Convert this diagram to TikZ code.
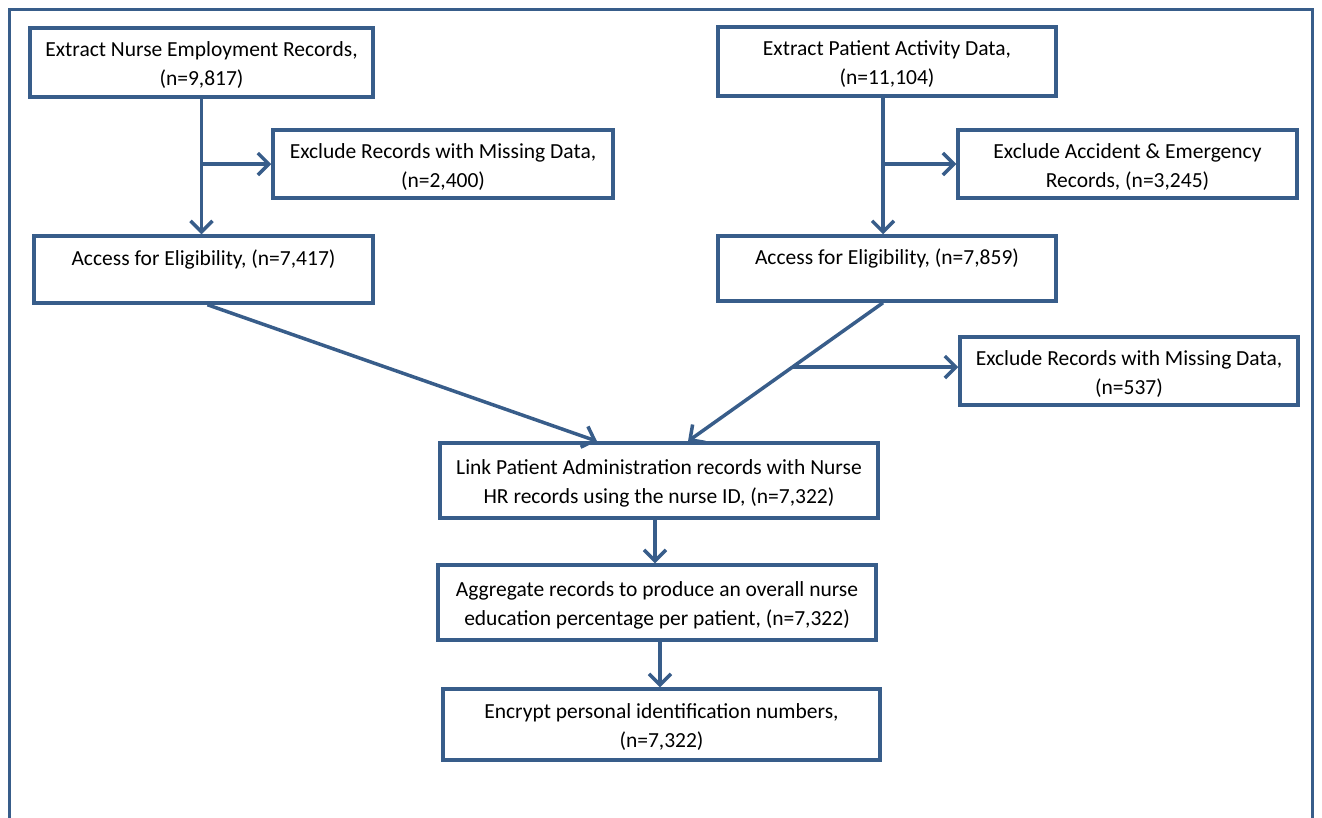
\documentclass[tikz,border=0pt]{standalone}
\usepackage{fontspec}
\setmainfont{Carlito}
\usetikzlibrary{arrows.meta,calc}
\definecolor{frame}{RGB}{56,93,138}
\newcommand\topstr{\rule{0pt}{20pt}}
\begin{document}
\begin{tikzpicture}[x=1pt,y=-1pt,
  box/.style={draw=frame,line width=3.5pt,rectangle,inner sep=0pt,align=center,
    font=\fontsize{21.5}{29}\selectfont,text=black},
  conn/.style={draw=frame,line width=3.5pt,-{Straight Barb[length=11pt,width=22pt,line width=3.5pt]}}]
\useasboundingbox (0,0) rectangle (1322,817);
\draw[frame,line width=3.5pt] (9.5,840) -- (9.5,9.5) -- (1312.5,9.5) -- (1312.5,840);

\node[box,minimum width=343pt,minimum height=69pt] (nurse) at (201.5,62.5) {\topstr Extract Nurse Employment Records,\\(n=9,817)};
\node[box,minimum width=340pt,minimum height=68pt] (exl) at (443,164) {\topstr Exclude Records with Missing Data,\\(n=2,400)};
\node[box,minimum width=339pt,minimum height=67pt] (accl) at (203.5,269.5) {\topstr Access for Eligibility, (n=7,417)\\[-9pt] \strut};
\node[box,minimum width=338pt,minimum height=69pt] (pat) at (887,61.5) {\topstr Extract Patient Activity Data,\\(n=11,104)};
\node[box,minimum width=339pt,minimum height=68pt] (exae) at (1127.5,164) {\topstr Exclude Accident \& Emergency\\Records, (n=3,245)};
\node[box,minimum width=338pt,minimum height=65pt] (accr) at (887,268.5) {\topstr Access for Eligibility, (n=7,859)\\[-9pt] \strut};
\node[box,minimum width=338pt,minimum height=68pt] (exr) at (1129,371) {\topstr Exclude Records with Missing Data,\\(n=537)};
\node[box,minimum width=438pt,minimum height=75pt] (link) at (659,480.5) {\topstr Link Patient Administration records with Nurse\\HR records using the nurse ID, (n=7,322)};
\node[box,minimum width=438pt,minimum height=75pt] (agg) at (657,602.5) {\topstr Aggregate records to produce an overall nurse\\education percentage per patient, (n=7,322)};
\node[box,minimum width=437pt,minimum height=71pt] (enc) at (661.5,724.5) {\topstr Encrypt personal identification numbers,\\(n=7,322)};

% left column
\draw[conn] (nurse.south) -- (nurse.south |- accl.north);
\coordinate (bl) at (nurse.south |- exl.west);
\draw[conn] (bl) -- (exl.west);
% right column
\coordinate (rtop) at ([xshift=-4pt]pat.south);
\draw[conn] (rtop) -- (rtop |- accr.north);
\coordinate (br) at (rtop |- exae.west);
\draw[conn] (br) -- (exae.west);
% diagonals
\coordinate (dl1) at ([xshift=4pt]accl.south);
\coordinate (dl2) at ([xshift=-62pt]link.north);
\draw[conn] (dl1) -- (dl2);
\coordinate (dr1) at ([xshift=-4pt]accr.south);
\coordinate (dr2) at ([xshift=29pt]link.north);
\draw[conn] (dr1) -- (dr2);
\coordinate (bd) at ($(dr1)!0.464!(dr2)$);
\draw[conn] (bd) -- (bd -| exr.west);
% bottom chain
\draw[conn] ([xshift=-4pt]link.south) -- ([xshift=-4pt]link.south |- agg.north);
\draw[conn] ([xshift=3pt]agg.south) -- ([xshift=3pt]agg.south |- enc.north);
\end{tikzpicture}
\end{document}
